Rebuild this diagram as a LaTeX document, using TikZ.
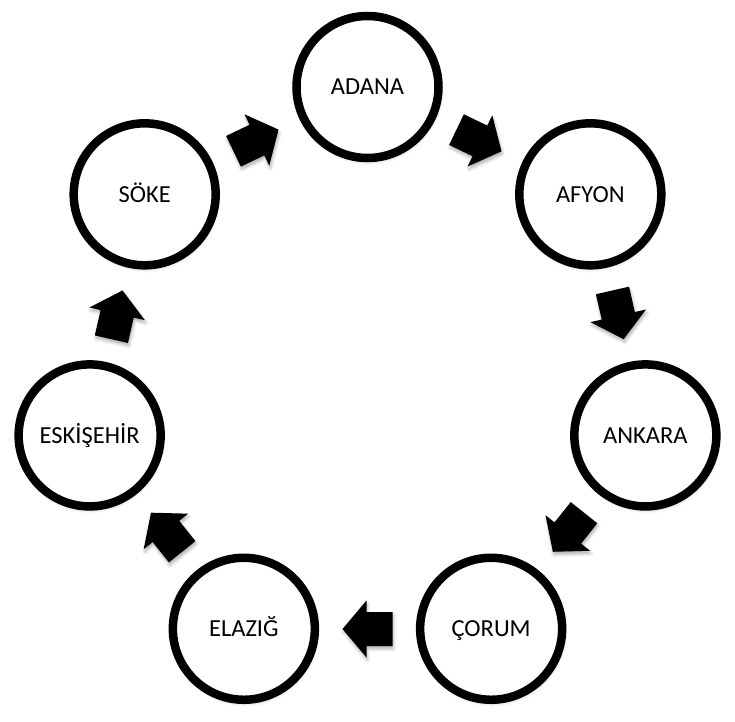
\documentclass[tikz,border=0pt]{standalone}
\usepackage{fontspec}
\setmainfont{Carlito}
\usetikzlibrary{shadows.blur}
\begin{document}
\begin{tikzpicture}[x=1pt,y=1pt,
  city/.style={circle, draw=black, fill=white, line width=8.5pt, minimum size=142pt, inner sep=0pt,
    font=\fontsize{24.5}{29}\selectfont, text height=15.8pt, text depth=0pt,
    blur shadow={shadow xshift=1pt, shadow yshift=-3pt, shadow blur radius=4pt, shadow opacity=30}},
  blockarrow/.style={fill=black,
    blur shadow={shadow xshift=1pt, shadow yshift=-3pt, shadow blur radius=3pt, shadow opacity=30}}]
\useasboundingbox (-367.5,-349) rectangle (367.5,372);
\node[city] (n0) at (90:285) {ADANA};
\node[city] (n1) at (38.5714:285) {AFYON};
\node[city] (n2) at (-12.8571:285) {ANKARA};
\node[city] (n3) at (-64.2857:285) {ÇORUM};
\node[city] (n4) at (-115.7143:285) {ELAZIĞ};
\node[city] (n5) at (-167.1429:285) {ESKİŞEHİR};
\node[city] (n6) at (-218.5714:285) {SÖKE};
\foreach \i in {0,...,6} {
  \pgfmathsetmacro\th{90-(\i+0.5)*360/7}
  \coordinate (a\i) at (\th:257);
  \fill[blockarrow, shift={(a\i)}, rotate=\th-90]
    (-25,-17) -- (1,-17) -- (1,-28.5) -- (25,0) -- (1,28.5) -- (1,17) -- (-25,17) -- cycle;
}
\end{tikzpicture}
\end{document}
